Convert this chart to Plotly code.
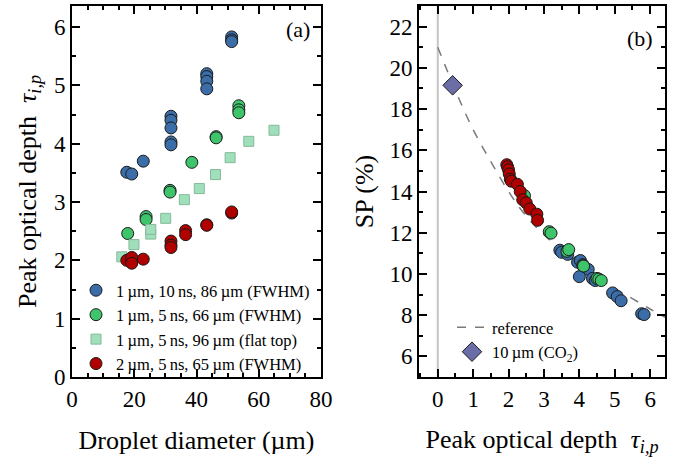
import plotly.graph_objects as go

# panel (a): droplet diameter (um) vs peak optical depth
blue_d = [17.6, 19.2, 22.9, 31.8, 31.8, 31.8, 31.8, 31.8, 43.3, 43.3, 43.3, 43.3, 51.3, 51.3, 51.3]
blue_tau = [3.51, 3.48, 3.70, 4.47, 4.40, 4.27, 4.03, 3.98, 5.20, 5.15, 5.07, 4.94, 5.83, 5.78, 5.75]

green_d = [17.9, 23.8, 23.8, 31.5, 31.5, 38.5, 46.3, 46.3, 53.6, 53.6, 53.6]
green_tau = [2.46, 2.75, 2.70, 3.20, 3.17, 3.68, 4.12, 4.10, 4.65, 4.58, 4.53]

sq_d = [16.0, 19.9, 25.3, 25.3, 30.1, 36.1, 40.9, 46.1, 50.8, 56.8, 64.9]
sq_tau = [2.06, 2.27, 2.45, 2.53, 2.72, 3.04, 3.23, 3.47, 3.76, 4.04, 4.23]

red_d = [17.6, 19.2, 19.2, 19.2, 22.9, 31.8, 31.8, 31.8, 36.5, 36.5, 43.3, 43.3, 51.3, 51.3]
red_tau = [2.00, 1.98, 2.05, 1.95, 2.02, 2.33, 2.26, 2.22, 2.51, 2.44, 2.61, 2.60, 2.81, 2.83]

# panel (b): peak optical depth vs SP (%)
blue_t2 = [3.45, 3.50, 3.67, 3.95, 4.03, 4.10, 4.25, 4.00, 4.37, 4.45, 4.94, 5.07, 5.18, 5.76, 5.83]
blue_sp = [11.15, 11.05, 10.95, 10.57, 10.65, 10.45, 10.22, 9.87, 9.78, 9.68, 9.08, 8.90, 8.70, 8.07, 8.03]

green_t2 = [2.45, 3.15, 3.20, 3.65, 3.70, 4.10, 4.12, 4.50, 4.55, 4.62]
green_sp = [13.80, 12.05, 11.98, 11.10, 11.18, 10.40, 10.38, 9.78, 9.75, 9.68]

red_t2 = [1.95, 1.97, 2.00, 2.02, 2.05, 2.08, 2.25, 2.33, 2.40, 2.50, 2.60, 2.80, 2.82]
red_sp = [15.30, 15.20, 15.05, 14.85, 14.60, 14.50, 14.35, 14.00, 13.60, 13.45, 13.15, 12.90, 12.60]

ref_t = [0, 0.5, 1, 1.5, 2, 2.5, 3, 3.5, 4, 4.5, 5, 5.5, 6, 6.42]
ref_sp = [21.0, 18.9, 17.0, 15.45, 14.0, 12.8, 11.9, 11.15, 10.45, 9.85, 9.3, 8.8, 8.3, 7.9]

co2_t = [0.42]
co2_sp = [19.15]

BLUE = "#3b6ea8"
GREEN = "#3ec56c"
SQ = "#9fe0bb"
RED = "#b00000"
DIAM = "#6a6da6"
FONT = "Liberation Serif, Times New Roman, DejaVu Serif, serif"

def circ(color):
    return dict(symbol="circle", size=12, color=color, line=dict(color="#1a1a1a", width=1))

fig = go.Figure()

fig.add_trace(go.Scatter(x=blue_d, y=blue_tau, mode="markers", marker=circ(BLUE),
                         name="1\u2009\u00b5m, 10\u2009ns, 86\u2009\u00b5m (FWHM)", xaxis="x", yaxis="y", legend="legend"))
fig.add_trace(go.Scatter(x=green_d, y=green_tau, mode="markers", marker=circ(GREEN),
                         name="1\u2009\u00b5m, 5\u2009ns, 66\u2009\u00b5m (FWHM)", xaxis="x", yaxis="y", legend="legend"))
fig.add_trace(go.Scatter(x=sq_d, y=sq_tau, mode="markers",
                         marker=dict(symbol="square", size=10, color=SQ, line=dict(color="#86b89a", width=1)),
                         name="1\u2009\u00b5m, 5\u2009ns, 96\u2009\u00b5m (flat top)", xaxis="x", yaxis="y", legend="legend"))
fig.add_trace(go.Scatter(x=red_d, y=red_tau, mode="markers", marker=circ(RED),
                         name="2\u2009\u00b5m, 5\u2009ns, 65\u2009\u00b5m (FWHM)", xaxis="x", yaxis="y", legend="legend"))

# right panel
fig.add_trace(go.Scatter(x=ref_t, y=ref_sp, mode="lines", line=dict(color="#7a7a7a", width=1.5, dash="dash", shape="spline"),
                         name="reference", xaxis="x2", yaxis="y2", legend="legend2"))
fig.add_trace(go.Scatter(x=co2_t, y=co2_sp, mode="markers",
                         marker=dict(symbol="diamond", size=15, color=DIAM, line=dict(color="#1a1a1a", width=1)),
                         name="10\u2009\u00b5m (CO<sub>2</sub>)", xaxis="x2", yaxis="y2", legend="legend2"))
fig.add_trace(go.Scatter(x=blue_t2, y=blue_sp, mode="markers", marker=circ(BLUE), showlegend=False, xaxis="x2", yaxis="y2"))
fig.add_trace(go.Scatter(x=green_t2, y=green_sp, mode="markers", marker=circ(GREEN), showlegend=False, xaxis="x2", yaxis="y2"))
fig.add_trace(go.Scatter(x=red_t2, y=red_sp, mode="markers", marker=circ(RED), showlegend=False, xaxis="x2", yaxis="y2"))

fig.add_shape(type="line", xref="x2", yref="y2", x0=0, x1=0, y0=5, y1=23,
              line=dict(color="#c4c4c4", width=2), layer="below")

W, H = 676, 457
def ax(domain, rng, dtick, minor, **kw):
    d = dict(domain=domain, range=rng, dtick=dtick, tick0=0, showline=True, linewidth=2, linecolor="black",
             mirror="allticks", ticks="inside", ticklen=8, tickwidth=1.5, tickcolor="black",
             minor=dict(ticks="inside", dtick=minor, ticklen=4, tickwidth=1.5, tickcolor="black"),
             showgrid=False, zeroline=False, automargin=False,
             tickfont=dict(size=23, family=FONT, color="black"))
    d.update(kw)
    return d

tau_title = "Peak optical depth  <i>\u03c4</i><sub><i>i,p</i></sub>"

fig.update_layout(
    width=W, height=H, margin=dict(l=0, r=0, t=0, b=0),
    paper_bgcolor="white", plot_bgcolor="white",
    font=dict(family=FONT, size=22, color="black"),
    xaxis=ax([72 / W, 321 / W], [0, 80], 20, 5, anchor="y",
             title=dict(text="Droplet diameter (\u00b5m)", standoff=20)),
    yaxis=ax([1 - 377 / H, 1 - 6 / H], [0, 6.36], 1, 0.5, anchor="x",
             title=dict(text=tau_title, standoff=10)),
    xaxis2=ax([419 / W, 665 / W], [-0.53, 6.42], 1, 0.5, anchor="y2",
              title=dict(text=tau_title, standoff=20)),
    yaxis2=ax([1 - 377 / H, 1 - 6 / H], [5, 23], 2, 1, anchor="x2",
              title=dict(text="SP (%)", standoff=8)),
    legend=dict(x=76 / W, y=1 - 273 / H, xanchor="left", yanchor="top", bgcolor="rgba(0,0,0,0)",
                font=dict(size=16.5, family=FONT), tracegroupgap=0, itemwidth=30),
    legend2=dict(x=452 / W, y=1 - 310 / H, xanchor="left", yanchor="top", bgcolor="rgba(0,0,0,0)",
                 font=dict(size=16.5, family=FONT), tracegroupgap=0, itemwidth=30),
    annotations=[
        dict(text="(a)", x=72.7, y=5.95, xref="x", yref="y", showarrow=False, font=dict(size=22, family=FONT)),
        dict(text="(b)", x=5.71, y=21.43, xref="x2", yref="y2", showarrow=False, font=dict(size=22, family=FONT)),
    ],
)

fig.write_html("out.html", config={"displayModeBar": False},
               post_script="document.body.style.margin='0';document.body.style.overflow='hidden';")
